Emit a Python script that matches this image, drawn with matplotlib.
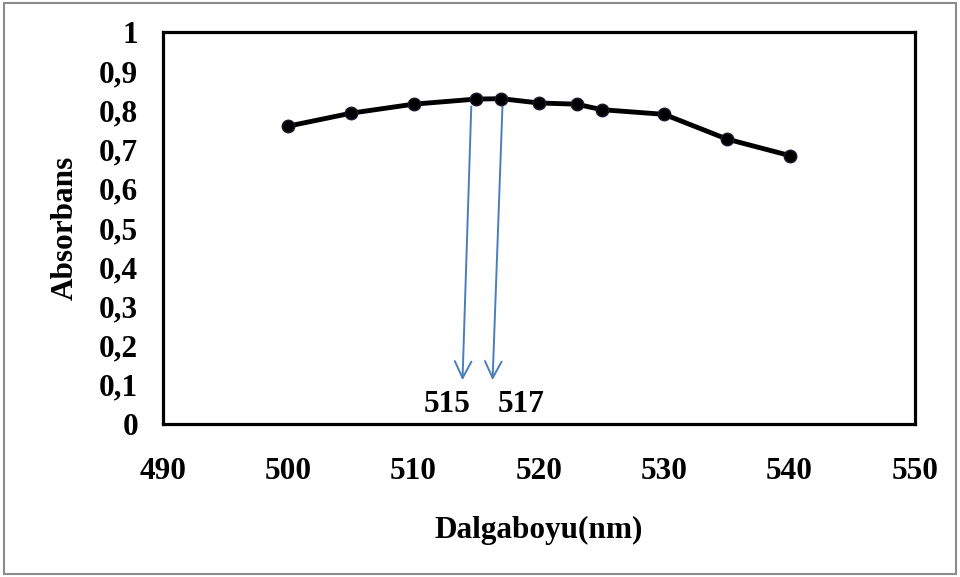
import matplotlib
matplotlib.use("Agg")
import matplotlib.pyplot as plt
from matplotlib.patches import Rectangle

# Absorption spectrum
wavelength = [500, 505, 510, 515, 517, 520, 523, 525, 530, 535, 540]
absorbance = [0.760, 0.793, 0.816, 0.829, 0.830, 0.819, 0.816, 0.802, 0.790, 0.727, 0.685]

# Peak wavelengths marked with arrows
peaks = [515, 517]
peak_labels = ["515", "517"]

x_ticks = [490, 500, 510, 520, 530, 540, 550]
y_ticks = [0, 0.1, 0.2, 0.3, 0.4, 0.5, 0.6, 0.7, 0.8, 0.9, 1.0]
y_tick_labels = ["0", "0,1", "0,2", "0,3", "0,4", "0,5", "0,6", "0,7", "0,8", "0,9", "1"]

font = {"family": "Liberation Serif", "weight": "bold"}
FS = 22.5

fig = plt.figure(figsize=(9.6, 5.77), dpi=100)
ax = fig.add_axes([0.1698, 0.265, 0.7832, 0.6795])

ax.plot(wavelength, absorbance, color="black", linewidth=3.5,
        marker="o", markersize=9, markerfacecolor="black",
        markeredgecolor="#1a1a2e", zorder=3)

# Arrows pointing from the curve down to the peak labels
arrow_color = "#4a7ebb"
arrow_starts = [(514.6, 0.81), (517.1, 0.82)]
arrow_ends = [(513.9, 0.112), (516.3, 0.112)]
label_pos = [(512.7, 0.051), (518.6, 0.051)]
for (x0, y0), (x1, y1), (lx, ly), lab in zip(arrow_starts, arrow_ends, label_pos, peak_labels):
    ax.annotate("", xy=(x1, y1), xytext=(x0, y0),
                arrowprops=dict(arrowstyle="->", color=arrow_color, lw=1.4,
                                mutation_scale=30, shrinkA=0, shrinkB=0),
                zorder=2)
    ax.text(lx, ly, lab, ha="center", va="center", fontsize=FS, **font)

ax.set_xlim(490, 550)
ax.set_ylim(0, 1)
ax.set_xticks(x_ticks)
ax.set_xticklabels([str(t) for t in x_ticks], fontsize=FS, **font)
ax.set_yticks(y_ticks)
ax.set_yticklabels(y_tick_labels, fontsize=FS, **font)
ax.tick_params(axis="both", length=0)
ax.tick_params(axis="x", pad=24)
ax.tick_params(axis="y", pad=18)

for sp in ax.spines.values():
    sp.set_linewidth(2.3)
    sp.set_color("black")

ax.set_xlabel("Dalgaboyu(nm)", fontsize=FS, labelpad=21, **font)
ax.set_ylabel("Absorbans", fontsize=FS, labelpad=14, **font)

# Outer frame around the whole figure
fig.patches.append(Rectangle((0.004, 0.006), 0.992, 0.988, transform=fig.transFigure,
                             fill=False, edgecolor="#8c8c8c", linewidth=1.5))

fig.savefig("out.png", dpi=100, facecolor="white")
